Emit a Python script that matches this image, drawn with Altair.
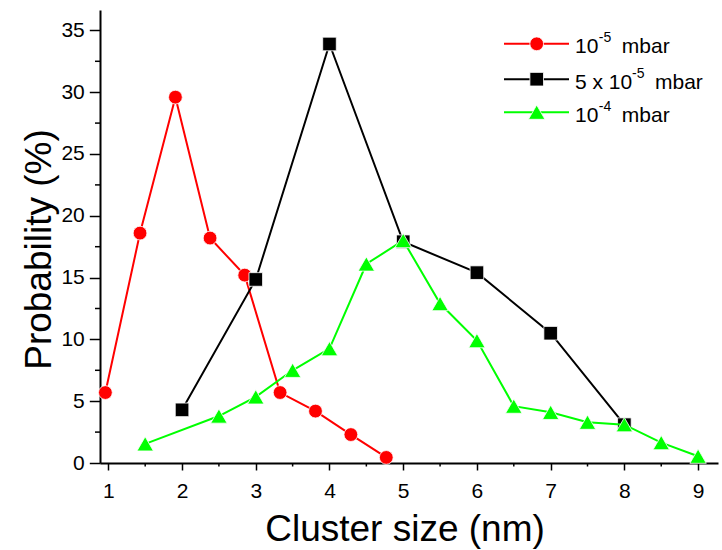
import altair as alt
import pandas as pd

# ---- data ----
red_x = [0.96, 1.43, 1.91, 2.38, 2.85, 3.33, 3.81, 4.29, 4.77]
red_y = [5.7, 18.6, 29.6, 18.2, 15.2, 5.7, 4.2, 2.3, 0.45]

black_x = [2, 3, 4, 5, 6, 7, 8]
black_y = [4.3, 14.85, 33.9, 17.9, 15.4, 10.5, 3.1]

green_x = [1.5, 2.5, 3, 3.5, 4, 4.5, 5, 5.5, 6, 6.5, 7, 7.5, 8, 8.5, 9]
green_y = [1.55, 3.8, 5.35, 7.5, 9.25, 16.1, 18.0, 12.9, 9.9, 4.6, 4.1, 3.3, 3.1, 1.65, 0.55]

x_major = [1, 2, 3, 4, 5, 6, 7, 8, 9]
x_minor = [1.5, 2.5, 3.5, 4.5, 5.5, 6.5, 7.5, 8.5]
y_major = [0, 5, 10, 15, 20, 25, 30, 35]
y_minor = [2.5, 7.5, 12.5, 17.5, 22.5, 27.5, 32.5]

FONT = "Liberation Sans"
W, H = 618, 453
LEFT, TOP = 100, 10

xscale = alt.Scale(domain=[0.887, 9.27], nice=False, zero=False)
yscale = alt.Scale(domain=[0, 36.65], nice=False, zero=True)

xaxis = alt.Axis(
    values=x_major, format="d", grid=False,
    domainColor="black", domainWidth=2,
    tickColor="black", tickWidth=1.5, tickSize=7,
    labelFont=FONT, labelFontSize=21, labelColor="black", labelPadding=10,
    title="Cluster size (nm)", titleFont=FONT, titleFontSize=37,
    titleFontWeight="normal", titleColor="black",
    titleX=304.5, titleY=77, titleAlign="center", titleBaseline="alphabetic",
)
yaxis = alt.Axis(
    values=y_major, format="d", grid=False,
    domainColor="black", domainWidth=2,
    tickColor="black", tickWidth=1.5, tickSize=10.7,
    labelFont=FONT, labelFontSize=21, labelColor="black", labelPadding=5,
    title="Probability (%)", titleFont=FONT, titleFontSize=37,
    titleFontWeight="normal", titleColor="black", titleAngle=-90,
    titleX=-50, titleY=239, titleAlign="center", titleBaseline="alphabetic",
)


def X(field):
    return alt.X(field, scale=xscale, axis=xaxis)


def Y(field):
    return alt.Y(field, scale=yscale, axis=yaxis)


def sdf(xs, ys):
    return pd.DataFrame({"x": xs, "y": ys})


layers = []

# minor ticks
minor_x = alt.Chart(pd.DataFrame({"x": x_minor})).mark_rule(color="black", strokeWidth=1.5).encode(
    x=X("x:Q"), y=alt.value(H), y2=alt.value(H + 3.5),
)
minor_y = alt.Chart(pd.DataFrame({"y": y_minor})).mark_rule(color="black", strokeWidth=1.5).encode(
    y=Y("y:Q"), x=alt.value(-5), x2=alt.value(0),
)
layers += [minor_x, minor_y]

series = [
    (red_x, red_y, "#ff0000", "circle", 190),
    (black_x, black_y, "#000000", "square", 185),
    (green_x, green_y, "#00ff00", "triangle-up", 270),
]
for xs, ys, col, shp, sz in series:
    d = sdf(xs, ys)
    line = alt.Chart(d).mark_line(color=col, strokeWidth=2).encode(
        x=X("x:Q"), y=Y("y:Q"), order="x:Q",
    )
    pts = alt.Chart(d).mark_point(
        shape=shp, size=sz, filled=True, fill=col, opacity=1,
        stroke="white", strokeWidth=0.8, strokeOpacity=1,
    ).encode(x=X("x:Q"), y=Y("y:Q"))
    layers += [line, pts]

# ---- legend (drawn manually) ----
one = pd.DataFrame({"a": [0]})
leg_baselines = [53.3, 88.7, 121.7]
leg_texts = [
    [("10", 575, 0, 21), ("-5", 598.8, -11, 14), ("mbar", 621.8, 0, 21)],
    [("5 x 10", 575, 0, 21), ("-5", 632, -11, 14), ("mbar", 655, 0, 21)],
    [("10", 575, 0, 21), ("-4", 598.8, -11, 14), ("mbar", 621.8, 0, 21)],
]
for (xs, ys, col, shp, sz), b, pieces in zip(series, leg_baselines, leg_texts):
    cy = b - 9.5 - TOP
    layers.append(
        alt.Chart(one).mark_rule(color=col, strokeWidth=2).encode(
            x=alt.value(504 - LEFT), x2=alt.value(569 - LEFT), y=alt.value(cy)
        )
    )
    layers.append(
        alt.Chart(one).mark_point(
            shape=shp, size=sz, filled=True, fill=col, opacity=1,
            stroke="white", strokeWidth=0.8,
        ).encode(x=alt.value(536.7 - LEFT), y=alt.value(cy))
    )
    for txt, px, dy, fs in pieces:
        layers.append(
            alt.Chart(one).mark_text(
                text=txt, font=FONT, fontSize=fs, color="black",
                align="left", baseline="alphabetic",
            ).encode(x=alt.value(px - LEFT), y=alt.value(b + dy - TOP))
        )

chart = (
    alt.layer(*layers)
    .properties(
        width=W, height=H,
        autosize=alt.AutoSizeParams(type="none"),
        padding={"left": LEFT, "top": TOP, "right": 722 - LEFT - W, "bottom": 550 - TOP - H},
        background="white",
    )
    .configure_view(stroke=None)
)

chart.save("out.html", embed_options={"renderer": "svg", "actions": False})
